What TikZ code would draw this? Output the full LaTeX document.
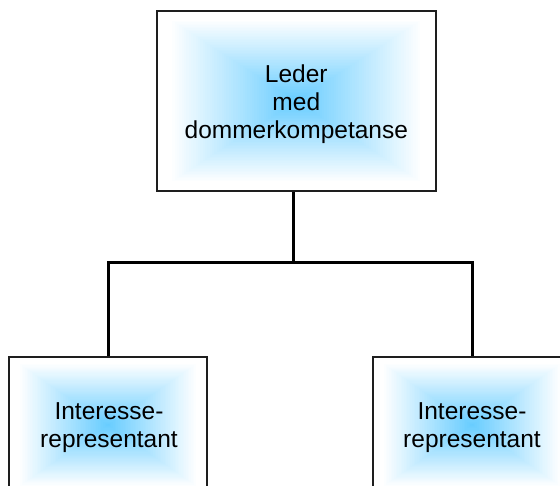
\documentclass[tikz,border=0pt]{standalone}
\usepackage{fontspec}
\setmainfont{Liberation Sans}
\usetikzlibrary{calc,backgrounds}
\definecolor{sky}{RGB}{102,204,255}
\definecolor{frame}{RGB}{30,30,30}
\tikzset{
  box/.style={draw=frame, line width=1.5pt, inner sep=0pt},
  lbl/.style={inner sep=0pt, align=center, font=\fontsize{24.5}{28}\selectfont},
  conn/.style={line width=3pt, line join=miter, black},
}
\newcommand\gradfill[1]{%
  \foreach \i in {0,...,60}{%
    \pgfmathsetmacro\f{1-\i/60}%
    \pgfmathsetmacro\q{max(0.0001,1-\f/0.9)}%
    \pgfmathsetmacro\p{min(100,100*\q^1.0)}%
    \fill[sky!\p!white] ($(#1.center)!\f!(#1.south west)$) rectangle ($(#1.center)!\f!(#1.north east)$);
  }%
}
\begin{document}
\begin{tikzpicture}[x=1pt,y=1pt]
\useasboundingbox (0,0) rectangle (560,486);
\clip (0,0) rectangle (560,486);
\node[box, minimum width=279pt, minimum height=180pt] (top) at (296.3,385) {};
\node[box, minimum width=198pt, minimum height=136pt] (left) at (108,61) {};
\node[box, minimum width=198pt, minimum height=136pt] (right) at (472,61) {};
\begin{scope}[on background layer]
  \gradfill{top}
  \gradfill{left}
  \gradfill{right}
\end{scope}
\node[lbl] (topt) at ($(top.center)+(0,-3)$) {Leder\\med\\dommerkompetanse};
\node[lbl] (leftt) at ($(left.center)+(1,-3)$) {Interesse-\\representant};
\node[lbl] (rightt) at ($(right.center)+(0,-3)$) {Interesse-\\representant};
\coordinate (j) at (293,223);
\draw[conn] (top.south -| j) -- (j);
\draw[conn] (left.north) -- (left.north |- j) -- (right.north |- j) -- (right.north);
\end{tikzpicture}
\end{document}
